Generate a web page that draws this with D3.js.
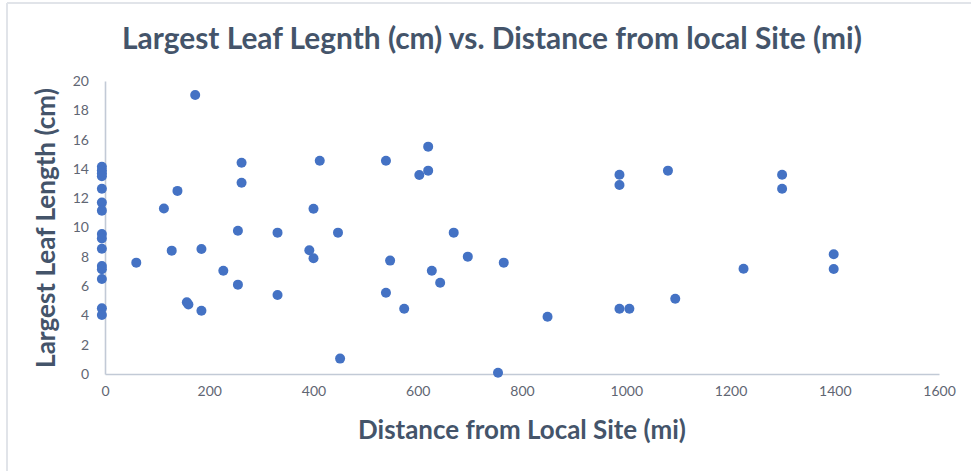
<!DOCTYPE html>
<html>
<head>
<meta charset="utf-8">
<script src="https://cdn.jsdelivr.net/npm/d3@7"></script>
<style>
  html, body { margin: 0; padding: 0; background: #fff; }
  svg { display: block; }
</style>
</head>
<body>
<svg id="chart" width="971" height="471"></svg>
<script>
// Distance from the local site (mi) for each sampled plant
const distance = [
  -6, -6, -6, -6, -6, -6, -6, -6, -6, -6, -6, -6, -6, -6, -6,
  60, 173, 113, 139, 128, 185, 157, 160, 185, 227, 255, 262, 262, 255, 331, 331,
  412, 400, 392, 400, 447, 539, 620, 620, 603, 669, 696, 765, 547, 627, 643, 539,
  574, 451, 754, 849, 987, 987, 1080, 1299, 1299, 1225, 1094, 987, 1006, 1398, 1398
];
// Largest leaf length (cm) of the same plants
const leafLength = [
  14.15, 13.9, 13.7, 13.5, 12.65, 11.7, 11.15, 9.55, 9.25, 8.55, 7.37, 7.15, 6.48, 4.48, 4.03,
  7.6, 19.05, 11.3, 12.5, 8.42, 8.53, 4.9, 4.75, 4.32, 7.05, 9.78, 14.42, 13.06, 6.1, 9.65, 5.39,
  14.56, 11.28, 8.45, 7.9, 9.65, 14.56, 15.52, 13.88, 13.58, 9.65, 8.01, 7.6, 7.74, 7.05, 6.23, 5.55,
  4.46, 1.05, 0.09, 3.91, 13.6, 12.9, 13.88, 13.6, 12.65, 7.19, 5.14, 4.46, 4.46, 8.17, 7.17
];
const xTicks = [0, 200, 400, 600, 800, 1000, 1200, 1400, 1600];
const yTicks = [0, 2, 4, 6, 8, 10, 12, 14, 16, 18, 20];

const titleText = "Largest Leaf Legnth (cm) vs. Distance from local Site (mi)";
const xTitleText = "Distance from Local Site (mi)";
const yTitleText = "Largest Leaf Length (cm)";

const svg = d3.select("#chart");
const font = "Lato, 'Open Sans', sans-serif";
const textColor = "#44546a";
const tickColor = "#5f6673";
const axisColor = "#c2cad6";

// frame edges along the top and left
svg.append("line").attr("x1", 7).attr("x2", 971).attr("y1", 3).attr("y2", 3)
  .attr("stroke", "#e1e4e9").attr("stroke-width", 2);
svg.append("line").attr("x1", 7).attr("x2", 7).attr("y1", 3).attr("y2", 471)
  .attr("stroke", "#e1e4e9").attr("stroke-width", 2);

const plot = { left: 105, right: 939, top: 81, bottom: 374 };

const x = d3.scaleLinear().domain([0, 1600]).range([plot.left, plot.right]);
const y = d3.scaleLinear().domain([0, 20]).range([plot.bottom, plot.top]);

// x axis
const gx = svg.append("g").attr("transform", `translate(0,${plot.bottom})`)
  .call(d3.axisBottom(x).tickValues(xTicks).tickSize(0).tickPadding(12).tickFormat(d3.format("d")));
gx.select(".domain").attr("stroke", axisColor).attr("stroke-width", 1.6);
gx.selectAll("text").attr("font-family", font).attr("font-size", 14)
  .attr("fill", tickColor);

// y axis
const gy = svg.append("g").attr("transform", `translate(${plot.left},0)`)
  .call(d3.axisLeft(y).tickValues(yTicks).tickSize(0).tickPadding(16).tickFormat(d3.format("d")));
gy.select(".domain").attr("stroke", axisColor).attr("stroke-width", 1.6);
gy.selectAll("text").attr("font-family", font).attr("font-size", 14)
  .attr("fill", tickColor);

// points
svg.append("g").selectAll("circle")
  .data(distance.map((d, i) => [d, leafLength[i]]))
  .join("circle")
  .attr("cx", d => x(d[0]))
  .attr("cy", d => y(d[1]))
  .attr("r", 5)
  .attr("fill", "#4472c4");

// fit a bold label to a given width
function fitText(sel, width) {
  const w = sel.node().getComputedTextLength();
  const fs = parseFloat(sel.attr("font-size"));
  sel.attr("font-size", fs * width / w);
}

const title = svg.append("text")
  .attr("x", 492).attr("y", 49)
  .attr("text-anchor", "middle")
  .attr("font-family", font).attr("font-weight", "bold")
  .attr("font-size", 24).attr("fill", textColor)
  .text(titleText);
fitText(title, 740);

const xTitle = svg.append("text")
  .attr("x", 522).attr("y", 439)
  .attr("text-anchor", "middle")
  .attr("font-family", font).attr("font-weight", "bold")
  .attr("font-size", 20).attr("fill", textColor)
  .text(xTitleText);
fitText(xTitle, 328);

const yTitle = svg.append("text")
  .attr("transform", "translate(55,228) rotate(-90)")
  .attr("text-anchor", "middle")
  .attr("font-family", font).attr("font-weight", "bold")
  .attr("font-size", 20).attr("fill", textColor)
  .text(yTitleText);
fitText(yTitle, 280);
</script>
</body>
</html>
